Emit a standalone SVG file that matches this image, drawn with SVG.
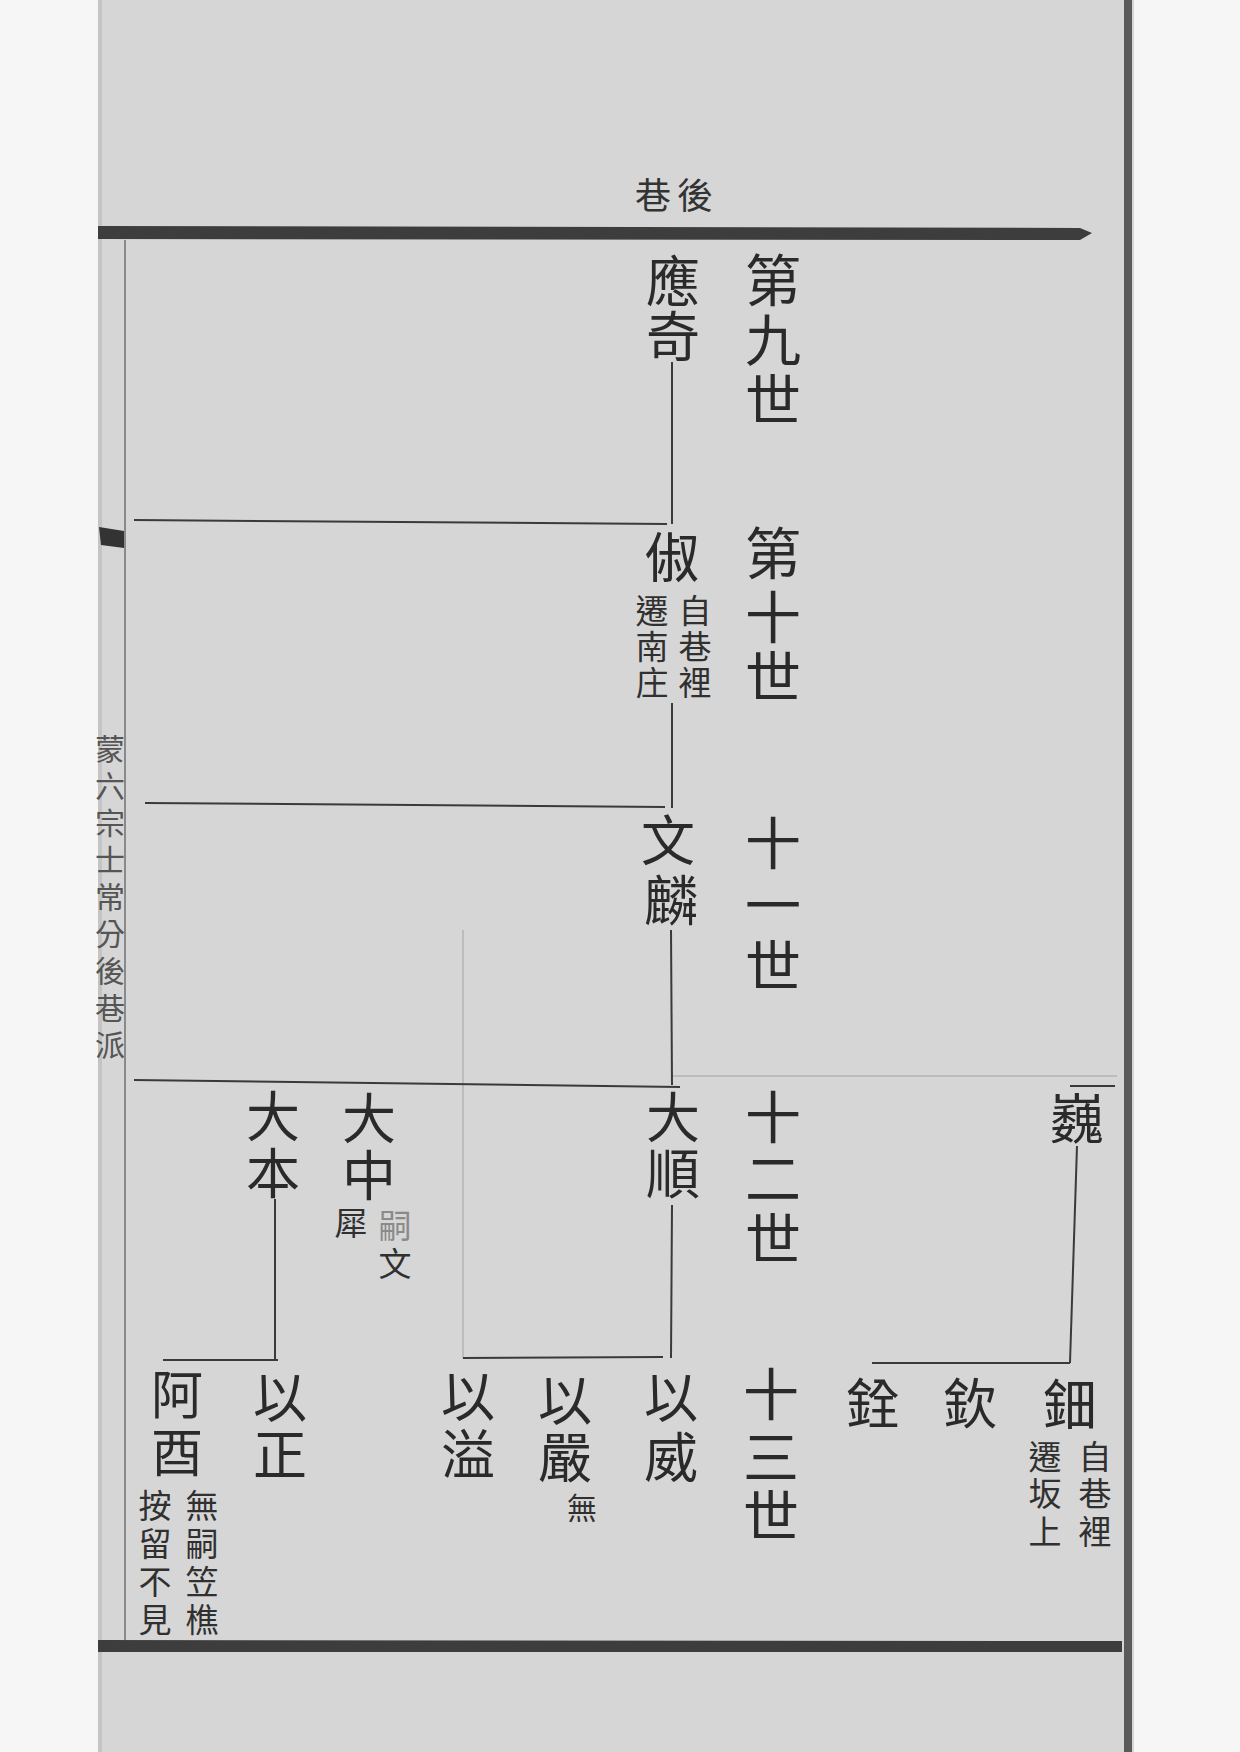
<svg xmlns="http://www.w3.org/2000/svg" width="1240" height="1752" viewBox="0 0 1240 1752">
<style>
text{font-family:"Noto Sans CJK TC","Noto Sans CJK SC",sans-serif;text-anchor:middle}
.n{font-size:54px;fill:#2a2a2a}
.g{font-size:56px;fill:#2a2a2a}
.a{font-size:33px;fill:#303030}
.h{font-size:36px;fill:#333}
.m{font-size:30px;fill:#555}
.c{stroke:#3a3a3a;stroke-width:2;fill:none}
.f{stroke:#bcbcbc;stroke-width:2;fill:none}
</style>
<rect x="0" y="0" width="1240" height="1752" fill="#f6f6f6"/>
<rect x="98" y="0" width="1036" height="1752" fill="#d6d6d6"/>
<rect x="1124" y="0" width="8" height="1752" fill="#5a5a5a"/>
<rect x="98" y="0" width="4" height="1752" fill="#c4c4c4"/>
<g id="frame">
<polygon points="98,226 1080,228 1092,233 1080,240 98,239" fill="#3d3d3d"/>
<polygon points="98,1640 1122,1641 1122,1652 98,1652" fill="#3d3d3d"/>
<line x1="125" y1="240" x2="125" y2="1640" stroke="#8a8a8a" stroke-width="2"/>
<polygon points="99,527 124,531 124,548 101,545" fill="#333"/>
<text class="m"><tspan x="110" y="760">蒙</tspan><tspan x="110" y="797">六</tspan><tspan x="110" y="834">宗</tspan><tspan x="110" y="871">士</tspan><tspan x="110" y="908">常</tspan><tspan x="110" y="945">分</tspan><tspan x="110" y="982">後</tspan><tspan x="110" y="1019">巷</tspan><tspan x="110" y="1056">派</tspan></text>
<text class="h"><tspan x="653" y="209">巷</tspan><tspan x="695" y="209">後</tspan></text>
</g>
<g id="generations">
<text class="g"><tspan x="773" y="301">第</tspan><tspan x="773" y="361">九</tspan><tspan x="773" y="421">世</tspan></text>
<text class="g"><tspan x="773" y="574">第</tspan><tspan x="773" y="638">十</tspan><tspan x="773" y="698">世</tspan></text>
<text class="g"><tspan x="773" y="864">十</tspan><tspan x="773" y="926">一</tspan><tspan x="773" y="987">世</tspan></text>
<text class="g"><tspan x="773" y="1138">十</tspan><tspan x="773" y="1199">二</tspan><tspan x="773" y="1260">世</tspan></text>
<text class="g"><tspan x="771" y="1415">十</tspan><tspan x="771" y="1478">三</tspan><tspan x="771" y="1537">世</tspan></text>
</g>
<g id="connectors">
<line class="f" x1="463" y1="930" x2="463" y2="1358"/>
<line class="f" x1="672" y1="1076" x2="1117" y2="1076"/>
<line class="c" x1="672" y1="362" x2="672" y2="524"/>
<line class="c" x1="134" y1="520" x2="667" y2="524"/>
<line class="c" x1="672" y1="703" x2="672" y2="808"/>
<line class="c" x1="145" y1="803" x2="665" y2="807"/>
<line class="c" x1="671" y1="930" x2="672" y2="1085"/>
<line class="c" x1="134" y1="1080" x2="680" y2="1087"/>
<line class="c" x1="275" y1="1199" x2="275" y2="1360"/>
<line class="c" x1="163" y1="1360" x2="278" y2="1360"/>
<line class="c" x1="672" y1="1205" x2="671" y2="1358"/>
<line class="c" x1="463" y1="1358" x2="663" y2="1357"/>
<line class="c" x1="1070" y1="1086" x2="1115" y2="1086"/>
<line class="c" x1="1077" y1="1146" x2="1070" y2="1363"/>
<line class="c" x1="872" y1="1363" x2="1070" y2="1363"/>
</g>
<g id="n-yingqi"><text class="n"><tspan x="673" y="302">應</tspan><tspan x="673" y="357">奇</tspan></text></g>
<g id="n-chu"><text class="n"><tspan x="672" y="578">俶</tspan></text>
<text class="a"><tspan x="695" y="623">自</tspan><tspan x="695" y="659">巷</tspan><tspan x="695" y="695">裡</tspan></text>
<text class="a"><tspan x="652" y="623">遷</tspan><tspan x="652" y="659">南</tspan><tspan x="652" y="695">庄</tspan></text></g>
<g id="n-wenlin"><text class="n"><tspan x="668" y="861">文</tspan><tspan x="671" y="921">麟</tspan></text></g>
<g id="n-daben"><text class="n"><tspan x="273" y="1137">大</tspan><tspan x="273" y="1194">本</tspan></text></g>
<g id="n-dazhong"><text class="n"><tspan x="369" y="1139">大</tspan><tspan x="369" y="1196">中</tspan></text>
<text class="a"><tspan x="351" y="1235">犀</tspan></text>
<text class="a"><tspan x="395" y="1238" fill="#8a8a8a">嗣</tspan><tspan x="395" y="1276">文</tspan></text></g>
<g id="n-dashun"><text class="n"><tspan x="673" y="1138">大</tspan><tspan x="673" y="1194">順</tspan></text></g>
<g id="n-wei"><text class="n"><tspan x="1077" y="1139">巍</tspan></text></g>
<g id="n-yiwei"><text class="n"><tspan x="671" y="1418">以</tspan><tspan x="671" y="1478">威</tspan></text></g>
<g id="n-yiyan"><text class="n"><tspan x="565" y="1421">以</tspan><tspan x="565" y="1478">嚴</tspan></text>
<text class="a" style="font-size:30px"><tspan x="582" y="1519">無</tspan></text></g>
<g id="n-yiyi"><text class="n"><tspan x="468" y="1417">以</tspan><tspan x="468" y="1475">溢</tspan></text></g>
<g id="n-yizheng"><text class="n"><tspan x="280" y="1418">以</tspan><tspan x="280" y="1475">正</tspan></text></g>
<g id="n-ayou"><text class="n" style="font-size:52px"><tspan x="177" y="1414">阿</tspan><tspan x="177" y="1472">酉</tspan></text>
<text class="a"><tspan x="202" y="1518">無</tspan><tspan x="202" y="1556">嗣</tspan><tspan x="202" y="1594">笠</tspan><tspan x="202" y="1632">樵</tspan></text>
<text class="a"><tspan x="155" y="1518">按</tspan><tspan x="155" y="1556">留</tspan><tspan x="155" y="1594">不</tspan><tspan x="155" y="1632">見</tspan></text></g>
<g id="n-dian"><text class="n"><tspan x="1070" y="1425">鈿</tspan></text>
<text class="a"><tspan x="1095" y="1469">自</tspan><tspan x="1095" y="1506">巷</tspan><tspan x="1095" y="1544">裡</tspan></text>
<text class="a"><tspan x="1045" y="1469">遷</tspan><tspan x="1045" y="1506">坂</tspan><tspan x="1045" y="1544">上</tspan></text></g>
<g id="n-qin"><text class="n"><tspan x="970" y="1424">欽</tspan></text></g>
<g id="n-quan"><text class="n"><tspan x="873" y="1424">銓</tspan></text></g>
</svg>
